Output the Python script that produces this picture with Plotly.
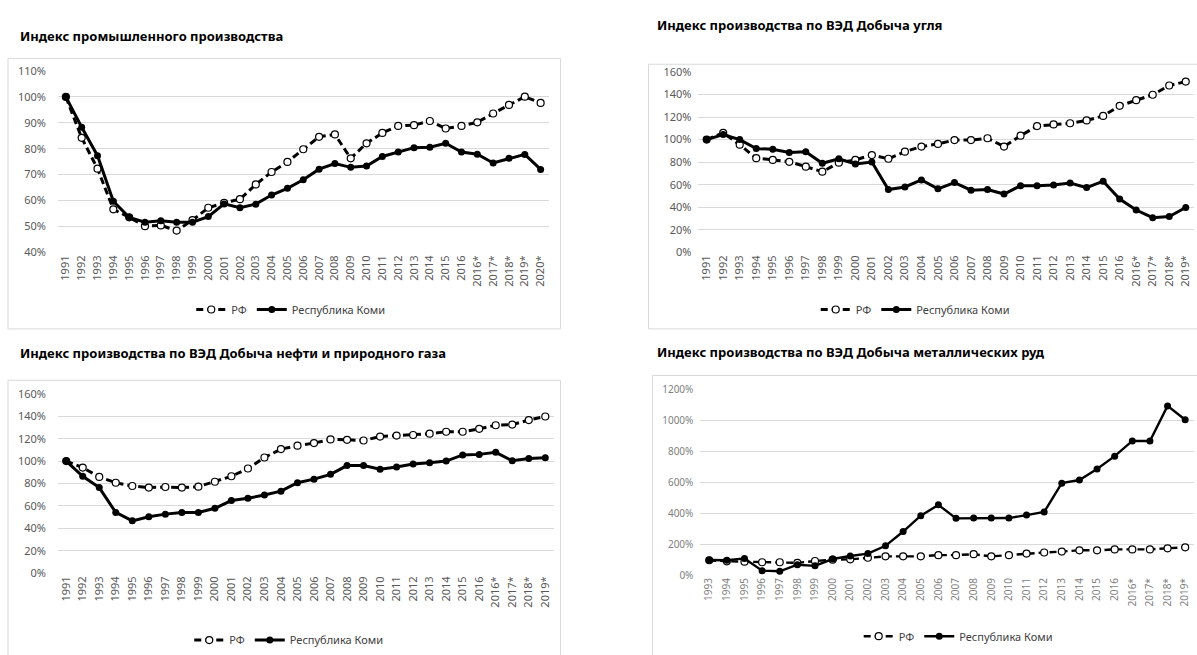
import plotly.graph_objects as go

W, H = 1197, 655

# ---- data ----
years_1991_2016 = [str(y) for y in range(1991, 2017)]
years_1993_2016 = [str(y) for y in range(1993, 2017)]
est_2016_2019 = ["2016*", "2017*", "2018*", "2019*"]
est_2016_2020 = ["2016*", "2017*", "2018*", "2019*", "2020*"]

cats_industry = years_1991_2016 + est_2016_2020
cats_coal = years_1991_2016 + est_2016_2019
cats_oilgas = years_1991_2016 + est_2016_2019
cats_metal = years_1993_2016 + est_2016_2019

industry_rf = [100, 84.2, 72.3, 56.6, 53.5, 50.1, 50.4, 48.4, 52.4, 57.2, 59.1, 60.5,
               66.2, 71.0, 74.9, 79.8, 84.6, 85.5, 76.3, 82.1, 86.1, 88.8, 89.1, 90.7,
               87.8, 88.8, 90.2, 93.6, 96.9, 100.1, 97.7]
industry_komi = [100, 88.3, 77.3, 59.7, 53.5, 51.6, 52.2, 51.6, 51.6, 53.8, 58.7, 57.2,
                 58.6, 62.1, 64.7, 68.0, 72.1, 74.3, 72.8, 73.3, 77.0, 78.7, 80.4, 80.6,
                 82.1, 78.7, 77.9, 74.5, 76.3, 77.8, 72.0]

coal_rf = [100, 106, 95.5, 83.5, 82, 80.3, 76, 71.5, 79.5, 82, 86.3, 83, 89.3, 93.8,
           96.2, 99.6, 99.6, 101.2, 93.8, 103.5, 112, 113.5, 114.5, 117, 121, 130,
           135, 139.8, 148, 151.5]
coal_komi = [100, 104.5, 100, 92, 91.5, 88.6, 89.2, 79, 83, 78.4, 80.1, 55.7, 58, 64.2,
             56.3, 61.9, 55.1, 55.7, 51.7, 59.1, 59.1, 59.7, 61.4, 57.4, 63.1, 47.2,
             37.5, 30.7, 31.8, 39.8]

oilgas_rf = [100, 94.2, 85.9, 80.7, 77.8, 76.4, 76.9, 76.4, 77.2, 81.6, 86.5, 93.4,
             103.2, 110.7, 113.8, 116.1, 119.3, 119.0, 118.4, 121.9, 122.8, 123.3,
             124.5, 126.2, 126.2, 128.8, 132.0, 132.6, 136.6, 139.8]
oilgas_komi = [100, 86.5, 76.4, 54.2, 46.7, 50.4, 52.7, 54.2, 54.2, 57.9, 64.8, 66.9,
               69.7, 73.2, 80.7, 83.9, 88.2, 96.0, 96.0, 92.8, 94.8, 97.4, 98.6, 100.0,
               105.5, 106.0, 107.8, 100.3, 102.3, 102.9]

metal_rf = [96, 89, 87, 83, 83, 79, 91, 100, 102, 112, 121, 121, 121, 129, 129, 135,
            121, 129, 139, 146, 152, 160, 160, 166, 166, 166, 173, 179]
metal_komi = [98, 96, 108, 29, 25, 67, 60, 104, 123, 139, 189, 281, 383, 453, 366, 368,
              368, 368, 387, 407, 593, 613, 684, 767, 865, 865, 1091, 1002]

titles = [
    "Индекс промышленного производства",
    "Индекс производства по ВЭД Добыча угля",
    "Индекс производства по ВЭД Добыча нефти и природного газа",
    "Индекс производства по ВЭД Добыча металлических руд",
]
name_rf = "РФ"
name_komi = "Республика Коми"


def px_x(v):
    return v / W


def px_y(v):
    return 1 - v / H


# panel geometry in pixels: plot area (left, right, top, bottom), frame, title, legend
panels = [
    dict(cats=cats_industry, rf=industry_rf, komi=industry_komi, rng=[40, 110], dtick=10,
         plot=(57, 548, 65, 252), frame=(7, 560, 52, 331), title=(17, 29), legend=(290, 311),
         tick_size=11, tick_color="#595959", lw=3, standoff=11),
    dict(cats=cats_coal, rf=coal_rf, komi=coal_komi, rng=[0, 160], dtick=20,
         plot=(698, 1194, 66, 252), frame=(648, 1205, 58, 331), title=(655, 18), legend=(915, 311),
         tick_size=11, tick_color="#595959", lw=3, standoff=6),
    dict(cats=cats_oilgas, rf=oilgas_rf, komi=oilgas_komi, rng=[0, 160], dtick=20,
         plot=(57, 553, 398, 583), frame=(7, 560, 384, 670), title=(17, 356), legend=(288, 652),
         tick_size=11, tick_color="#595959", lw=3, standoff=11),
    dict(cats=cats_metal, rf=metal_rf, komi=metal_komi, rng=[0, 1200], dtick=200,
         plot=(700, 1194, 393, 585), frame=(652, 1205, 379, 670), title=(655, 355), legend=(958, 648),
         tick_size=10, tick_color="#7f7f7f", lw=2.4, standoff=6),
]

fig = go.Figure()
layout = dict(
    width=W, height=H, margin=dict(l=0, r=0, t=0, b=0),
    paper_bgcolor="white", plot_bgcolor="white",
    font=dict(family="Noto Sans", color="#404040"),
    shapes=[], annotations=[],
)

for i, p in enumerate(panels, start=1):
    xa = "x" if i == 1 else f"x{i}"
    ya = "y" if i == 1 else f"y{i}"
    lg = "legend" if i == 1 else f"legend{i}"
    l, r, t, b = p["plot"]

    fig.add_trace(go.Scatter(
        x=p["cats"], y=p["rf"], name=name_rf, mode="lines+markers",
        xaxis=xa, yaxis=ya, legend=lg,
        line=dict(color="black", width=p["lw"], dash="7px,4px"),
        marker=dict(symbol="circle", size=7, color="white",
                    line=dict(color="black", width=1.2)),
    ))
    fig.add_trace(go.Scatter(
        x=p["cats"], y=p["komi"], name=name_komi, mode="lines+markers",
        xaxis=xa, yaxis=ya, legend=lg,
        line=dict(color="black", width=p["lw"]),
        marker=dict(symbol="circle", size=7, color="black"),
    ))

    xkey = "xaxis" if i == 1 else f"xaxis{i}"
    ykey = "yaxis" if i == 1 else f"yaxis{i}"
    layout[xkey] = dict(
        domain=[px_x(l), px_x(r)], anchor=ya, type="category",
        range=[-0.5, len(p["cats"]) - 0.5], tickangle=-90,
        showgrid=False, showline=False, ticks="", zeroline=False,
        tickfont=dict(size=p["tick_size"], color=p["tick_color"]),
    )
    layout[ykey] = dict(
        domain=[px_y(b), px_y(t)], anchor=xa, range=p["rng"], dtick=p["dtick"],
        ticksuffix="%", showgrid=True, gridcolor="#d9d9d9", gridwidth=1,
        zeroline=False, showline=False, ticks="", ticklabelstandoff=p["standoff"],
        tickfont=dict(size=p["tick_size"], color=p["tick_color"]),
    )
    lx, ly = p["legend"]
    layout[lg] = dict(
        orientation="h", x=px_x(lx), y=px_y(ly), xanchor="center", yanchor="middle",
        font=dict(size=11, color="#404040"), itemwidth=30, bgcolor="rgba(0,0,0,0)",
    )
    fl, fr, ft, fb = p["frame"]
    layout["shapes"].append(dict(
        type="rect", xref="paper", yref="paper",
        x0=px_x(fl), x1=px_x(fr), y0=px_y(fb), y1=px_y(ft),
        line=dict(color="#d9d9d9", width=1), fillcolor="rgba(0,0,0,0)", layer="below",
    ))
    tx, ty = p["title"]
    layout["annotations"].append(dict(
        text=f"<b>{titles[i - 1]}</b>", xref="paper", yref="paper",
        x=px_x(tx), y=px_y(ty), xanchor="left", yanchor="middle", showarrow=False,
        font=dict(size=13, color="black", family="Noto Sans"),
    ))

fig.update_layout(**layout)
fig.write_html("out.html")
